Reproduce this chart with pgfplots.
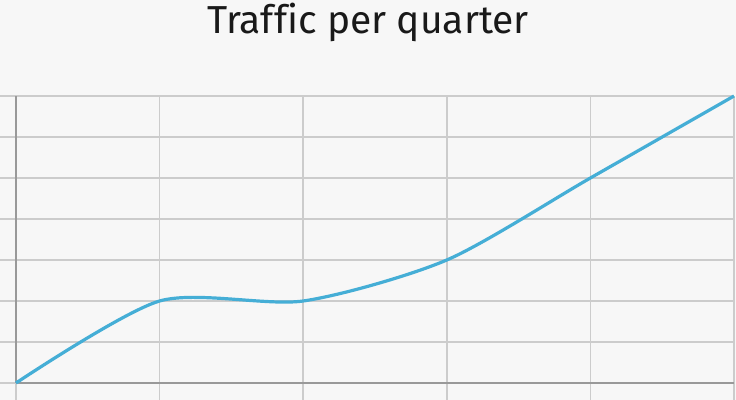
\documentclass[border=0pt]{standalone}
\usepackage{pgfplots}
\pgfplotsset{compat=1.18}
\usepackage{fontspec}
\setmainfont[Ligatures=NoCommon]{Fira Sans}
\definecolor{bg}{HTML}{F7F7F7}
\definecolor{gridc}{HTML}{CCCCCC}
\definecolor{axisc}{HTML}{999999}
\definecolor{linec}{HTML}{45AED6}
\begin{document}
\begin{tikzpicture}
\useasboundingbox (0,0) rectangle (368pt,200pt);
\fill[bg] (0,0) rectangle (368pt,200pt);
\clip (0,0) rectangle (368pt,200pt);
\node[font=\fontsize{19.5}{24}\selectfont\color{black!90}] at (184pt,189pt) {Traffic per quarter};
\begin{axis}[
  at={(8pt,8.5pt)}, anchor=south west,
  scale only axis, width=359pt, height=143.5pt,
  xmin=0, xmax=5, ymin=0, ymax=7,
  xtick={0,1,2,3,4,5}, ytick={0,1,2,3,4,5,6,7},
  xticklabels={}, yticklabels={},
  axis x line=bottom, axis y line=left,
  axis line style={-, axisc, line width=0.9pt},
  grid=major, major grid style={gridc, line width=0.8pt},
  tick align=outside, major tick length=10pt,
  tick style={gridc, line width=0.8pt},
  clip=false,
]
\addplot[linec, line width=1.6pt, smooth, tension=0.45] coordinates {
  (0,0) (1,2) (2,2) (3,3) (4,5) (5,7)
};
\end{axis}
\end{tikzpicture}
\end{document}
